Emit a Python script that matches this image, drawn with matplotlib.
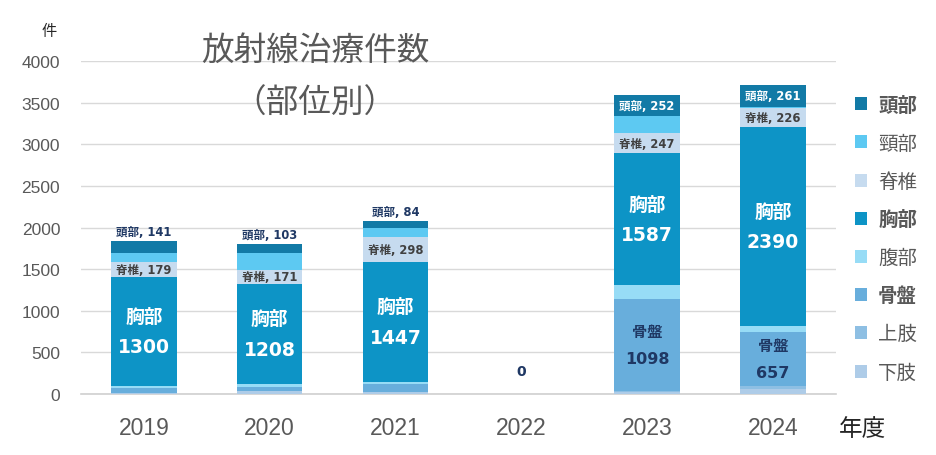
import matplotlib
matplotlib.use("Agg")
import matplotlib.pyplot as plt
import numpy as np
from matplotlib.patches import Patch

years = ['2019', '2020', '2021', '2022', '2023', '2024']
parts = ['下肢', '上肢', '骨盤', '腹部', '胸部', '脊椎', '頸部', '頭部']
head = [141, 103, 84, 0, 252, 261]
neck = [117, 204, 105, 0, 205, 16]
spine = [179, 171, 298, 0, 247, 226]
chest = [1300, 1208, 1447, 0, 1587, 2390]
abdomen = [24, 35, 24, 0, 165, 72]
pelvis = [65, 40, 96, 0, 1098, 657]
upper_limb = [6, 10, 6, 0, 12, 28]
lower_limb = [6, 31, 18, 0, 29, 62]
zero_label_year = '2022'

colors = {
    '頭部': '#127AA6',
    '頸部': '#5DC9F2',
    '脊椎': '#C6DBEF',
    '胸部': '#0D94C6',
    '腹部': '#97DCF6',
    '骨盤': '#68AEDC',
    '上肢': '#8EBFE3',
    '下肢': '#AECCE8',
}
series = {
    '下肢': lower_limb, '上肢': upper_limb, '骨盤': pelvis, '腹部': abdomen,
    '胸部': chest, '脊椎': spine, '頸部': neck, '頭部': head,
}

CJK = ['Noto Sans CJK JP', 'DejaVu Sans']
LBL = ['DejaVu Sans', 'Noto Sans CJK JP']
plt.rcParams['font.family'] = CJK

fig = plt.figure(figsize=(9.36, 4.56), dpi=100)
ax = fig.add_axes([0.0865, 0.1338, 0.8065, 0.7302])

x = np.arange(len(years))
width = 0.52
bottom = np.zeros(len(years))
for p in parts:
    vals = np.array(series[p], dtype=float)
    ax.bar(x, vals, width, bottom=bottom, color=colors[p], label=p, zorder=3)
    bottom = bottom + vals

ax.set_ylim(0, 4000)
ax.set_xlim(-0.5, len(years) - 0.5)
ax.set_yticks(np.arange(0, 4001, 500))
ax.set_xticks(x)
ax.set_xticklabels(years)
ax.grid(axis='y', color='#D9D9D9', linewidth=1, zorder=0)
for s in ['top', 'right', 'left']:
    ax.spines[s].set_visible(False)
ax.spines['bottom'].set_color('#D0D0D0')
ax.spines['bottom'].set_linewidth(1.2)
ax.tick_params(axis='both', length=0)
ax.tick_params(axis='y', pad=15, labelsize=12.5, labelcolor='#595959')
ax.tick_params(axis='x', pad=16, labelsize=16.5, labelcolor='#595959')
for t in ax.get_yticklabels() + ax.get_xticklabels():
    t.set_family(['Liberation Sans', 'DejaVu Sans'])

cum = {}
b = np.zeros(len(years))
for p in parts:
    cum[p] = b.copy()
    b = b + np.array(series[p], dtype=float)
totals = b

navy = '#1F3864'
for i in range(len(years)):
    if totals[i] == 0:
        continue
    h = head[i]
    if h >= 200:
        ax.text(x[i], cum['頭部'][i] + h / 2, f'頭部, {h}', ha='center', va='center',
                fontsize=8.3, fontweight='bold', color='white', family=LBL, zorder=5)
    else:
        ax.annotate(f'頭部, {h}', xy=(x[i], totals[i]), xytext=(0, 2), textcoords='offset points',
                    ha='center', va='bottom', fontsize=8.3, fontweight='bold', color=navy,
                    family=LBL, zorder=5)
    sp = spine[i]
    ax.text(x[i], cum['脊椎'][i] + sp / 2, f'脊椎, {sp}', ha='center', va='center',
            fontsize=8.3, fontweight='bold', color='#404040', family=LBL, zorder=5)
    c = chest[i]
    cy = cum['胸部'][i] + c / 2
    ax.annotate('胸部', xy=(x[i], cy), xytext=(0, 11), textcoords='offset points',
                ha='center', va='center', fontsize=13.5, fontweight='bold', color='white',
                family=LBL, zorder=5)
    ax.annotate(f'{c}', xy=(x[i], cy), xytext=(0, -11), textcoords='offset points',
                ha='center', va='center', fontsize=13.5, fontweight='bold', color='white',
                family=LBL, zorder=5)
    pv = pelvis[i]
    if pv >= 300:
        py = cum['骨盤'][i] + pv / 2
        ax.annotate('骨盤', xy=(x[i], py), xytext=(0, 9.5), textcoords='offset points',
                    ha='center', va='center', fontsize=11, fontweight='bold', color=navy,
                    family=LBL, zorder=5)
        ax.annotate(f'{pv}', xy=(x[i], py), xytext=(0, -9.5), textcoords='offset points',
                    ha='center', va='center', fontsize=11.5, fontweight='bold', color=navy,
                    family=LBL, zorder=5)

zi = years.index(zero_label_year)
ax.annotate('0', xy=(x[zi], 0), xytext=(0, 16.5), textcoords='offset points',
            ha='center', va='center', fontsize=10, fontweight='bold', color=navy,
            family=LBL, zorder=5)

handles = [Patch(facecolor=colors[p], edgecolor='none') for p in parts[::-1]]
leg = fig.legend(handles, parts[::-1], loc='upper left', bbox_to_anchor=(0.905, 0.805),
                 frameon=False, fontsize=14, handlelength=0.65, handleheight=0.65,
                 handletextpad=0.55, labelspacing=0.92, borderaxespad=0)
bold_set = {'頭部', '胸部', '骨盤'}
for t in leg.get_texts():
    t.set_color('#595959')
    if t.get_text() in bold_set:
        t.set_fontweight('bold')

fig.text(0.337, 0.888, '放射線治療件数', ha='center', va='center', fontsize=23.5, color='#595959')
fig.text(0.337, 0.772, '（部位別）', ha='center', va='center', fontsize=23.5, color='#595959')
fig.text(0.053, 0.93, '件', ha='center', va='center', fontsize=11, color='#262626')
fig.text(0.921, 0.058, '年度', ha='center', va='center', fontsize=17, color='#262626')

fig.savefig('out.png', dpi=100)
